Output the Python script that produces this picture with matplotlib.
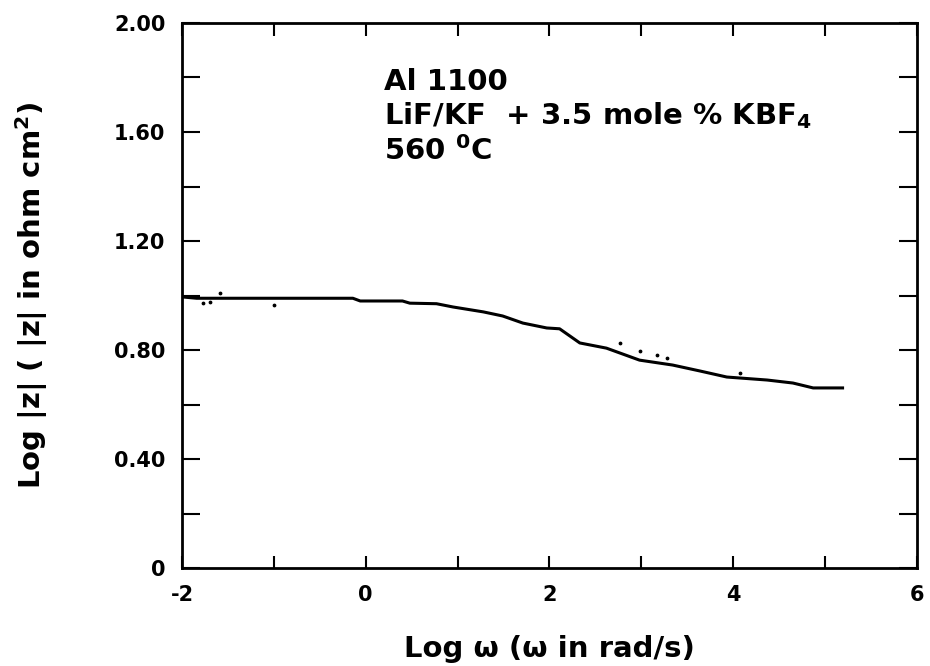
import numpy as np
import matplotlib.pyplot as plt

# main trace
log_w = [-2.0, -1.84, -1.5, -1.0, -0.5, -0.14, -0.06, 0.40, 0.48, 0.77, 0.95,
         1.28, 1.49, 1.71, 1.97, 2.11, 2.33, 2.62, 2.98, 3.34, 3.64, 3.93,
         4.37, 4.65, 4.87, 5.19]
log_z = [0.995, 0.99, 0.99, 0.99, 0.99, 0.99, 0.98, 0.98, 0.972, 0.970, 0.958,
         0.940, 0.925, 0.899, 0.881, 0.878, 0.826, 0.807, 0.763, 0.745, 0.723,
         0.701, 0.690, 0.679, 0.661, 0.661]

# stray points off the trace
dot_w = [-1.77, -1.70, -1.59, -1.00, 2.77, 2.98, 3.17, 3.28, 4.07]
dot_z = [0.972, 0.975, 1.01, 0.965, 0.826, 0.797, 0.782, 0.770, 0.716]

xticks = [-2, 0, 2, 4, 6]
yticks = [0, 0.4, 0.8, 1.2, 1.6, 2.0]
ylabels = ['0', '0.40', '0.80', '1.20', '1.60', '2.00']

plt.rcParams['font.family'] = 'DejaVu Sans'
plt.rcParams['font.weight'] = 'bold'
plt.rcParams['axes.unicode_minus'] = False

fig = plt.figure(figsize=(9.3, 6.66), dpi=100)
ax = fig.add_axes([0.1957, 0.147, 0.7903, 0.8185])

ax.plot(log_w, log_z, color='black', linewidth=2.2)
ax.scatter(dot_w, dot_z, s=3, color='black')

ax.set_xlim(-2, 6)
ax.set_ylim(0, 2.0)
ax.set_xticks(xticks)
ax.set_xticks(np.arange(-2, 7, 1), minor=True)
ax.set_yticks(yticks)
ax.set_yticklabels(ylabels)
ax.set_yticks(np.arange(0, 2.01, 0.2), minor=True)

ax.tick_params(which='both', direction='in', top=True, right=True, width=1.5,
               labelsize=15, pad=12)
ax.tick_params(axis='y', which='both', length=13)
ax.tick_params(axis='x', which='both', length=9)
for s in ax.spines.values():
    s.set_linewidth(2)

ax.set_xlabel('Log ω (ω in rad/s)', fontsize=21, fontweight='bold', labelpad=22)
ax.set_ylabel('Log |z| ( |z| in ohm cm$^\\mathbf{2}$)', fontsize=21,
              fontweight='bold', labelpad=46)

ax.text(0.275, 0.918, 'Al 1100\nLiF/KF  + 3.5 mole % KBF$_\\mathbf{4}$\n560 $^\\mathbf{0}$C',
        transform=ax.transAxes, fontsize=21, fontweight='bold', va='top',
        linespacing=1.2)

fig.savefig('out.png', dpi=100)
